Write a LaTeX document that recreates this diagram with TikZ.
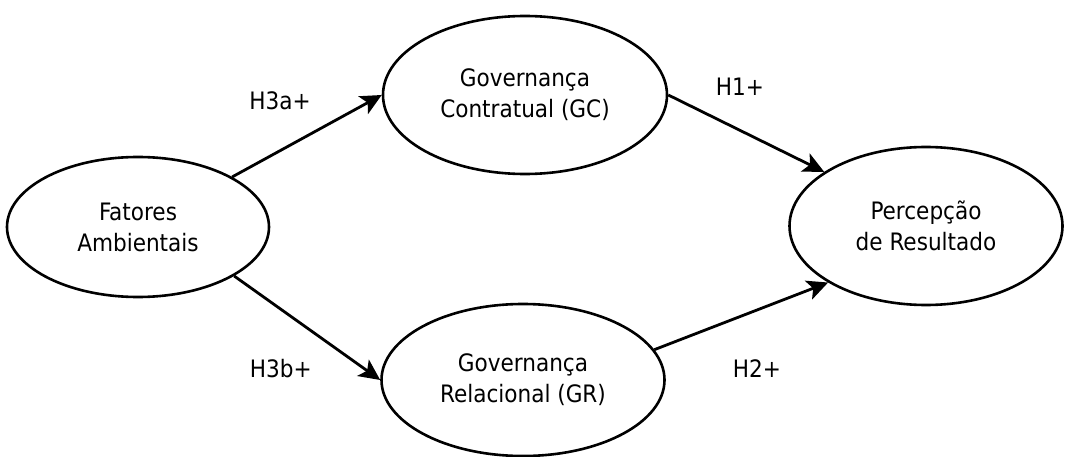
\documentclass[tikz,border=0pt]{standalone}
\usepackage{fontspec}
\newfontfamily\diagfont{DejaVu Sans Condensed}
\usetikzlibrary{shapes.geometric,arrows.meta}
\begin{document}
\begin{tikzpicture}
[x=1pt,y=-1pt,
  constructdecorate/.style={shape=ellipse,draw,line width=2.6pt,inner sep=0pt,align=center,font=\diagfont\fontsize{24}{31}\selectfont},%
  linedecorate/.style={-{Stealth[length=21pt,width=20pt,inset=5pt]},line width=2.8pt},%
  hypdecorate/.style={inner sep=0pt,font=\diagfont\fontsize{24}{31}\selectfont}]
\useasboundingbox (0,0) rectangle (1065,457);
% constructs
\node (fat) at (138,227) [constructdecorate,minimum width=262pt,minimum height=140pt] {Fatores\\Ambientais};
\node (gc) at (525,95) [constructdecorate,minimum width=284pt,minimum height=158pt] {Governança\\Contratual (GC)};
\node (gr) at (523,380) [constructdecorate,minimum width=283pt,minimum height=152pt] {Governança\\Relacional (GR)};
\node (per) at (926,226) [constructdecorate,minimum width=273pt,minimum height=158pt] {Percepção\\de Resultado};
% hypotheses
\path
(fat.28) edge[linedecorate] node[hypdecorate,pos=0.32,above=39pt]{H3a+} (gc.west)
(fat.-27) edge[linedecorate] node[hypdecorate,pos=0.32,below=49pt]{H3b+} (gr.west)
(gc.east) edge[linedecorate] node[hypdecorate,pos=0.46,above=33pt]{H1+} (per.152)
(gr.13) edge[linedecorate] node[hypdecorate,pos=0.59,below=48pt]{H2+} (per.210);
\end{tikzpicture}
\end{document}
